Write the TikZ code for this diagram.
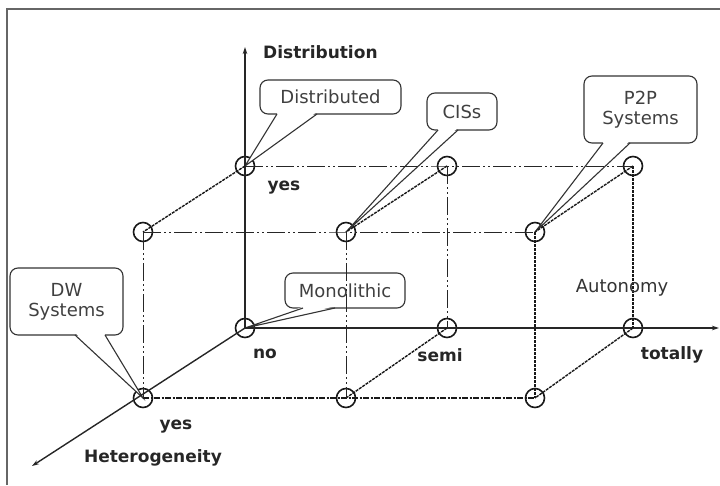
\documentclass[tikz,border=0pt]{standalone}
\usepackage{fontspec}
\setmainfont{DejaVu Sans}
\usetikzlibrary{arrows.meta,calc}
\begin{document}
\begin{tikzpicture}[x=1pt,y=-1pt,
  pt/.style={circle,draw=black!90,line width=1.6pt,minimum size=19pt,inner sep=0pt},
  axis/.style={line width=1.4pt,black!85,-{Stealth[length=7pt,width=4.5pt]}},
  dashdot/.style={line width=0.9pt,black!85,dash pattern=on 18pt off 3pt on 2pt off 3pt on 2pt off 3pt},
  diag/.style={line width=1.4pt,black!90,dash pattern=on 3pt off 1pt},
  heavydot/.style={line width=2.1pt,black!90,dash pattern=on 3pt off 1pt},
  frontedge/.style={line width=1.9pt,black!90,dash pattern=on 6pt off 1.5pt on 2pt off 1.5pt},
  callbox/.style={draw=black!80,line width=1.1pt,rounded corners=8pt,fill=white,align=center,
    text=black!75,font=\fontsize{18}{20}\selectfont,inner sep=0pt},
  tailside/.style={draw=black!80,line width=1.1pt},
  lbl/.style={font=\fontsize{17}{19}\selectfont\bfseries,text=black!85,inner sep=0pt},
  lblr/.style={font=\fontsize{18}{20}\selectfont,text=black!80,inner sep=0pt}]
\useasboundingbox (0,0) rectangle (720,485);
% frame (only top and left edges visible)
\draw[line width=2.2pt,black!60] (7,485) -- (7,9) -- (720,9);

% grid points
\node[pt] (bt1) at (245,166) {};
\node[pt] (bt2) at (447,166) {};
\node[pt] (bt3) at (633,166) {};
\node[pt] (bb1) at (245,328) {};
\node[pt] (bb2) at (447,328) {};
\node[pt] (bb3) at (633,328) {};
\node[pt] (ft1) at (143,232) {};
\node[pt] (ft2) at (346,232) {};
\node[pt] (ft3) at (535,232) {};
\node[pt] (fb1) at (143,398) {};
\node[pt] (fb2) at (346,398) {};
\node[pt] (fb3) at (535,398) {};
\coordinate (distEnd) at (245,47);
\coordinate (autEnd) at (719,328);
\coordinate (hetEnd) at (32,466);

% callouts
\node[callbox,minimum width=141pt,minimum height=34pt] (cDist) at (330.5,97) {Distributed};
\node[callbox,minimum width=70pt,minimum height=37pt] (cCIS) at (462,111.5) {CISs};
\node[callbox,minimum width=113pt,minimum height=67pt] (cP2P) at (640.5,109.5) {P2P\\Systems};
\node[callbox,minimum width=113pt,minimum height=67pt] (cDW) at (66.5,301.5) {DW\\Systems};
\node[callbox,minimum width=120pt,minimum height=35pt] (cMono) at (345,290.5) {Monolithic};

\coordinate (dA) at (277,114); \coordinate (dB) at (317,114);
\coordinate (cA) at (438,130); \coordinate (cB) at (458,130);
\coordinate (pA) at (603,143); \coordinate (pB) at (630,143);
\coordinate (wA) at (75,335); \coordinate (wB) at (105,335);
\coordinate (mA) at (303,308); \coordinate (mB) at (335,308);

\foreach \a/\b/\t in {dA/dB/bt1,cA/cB/ft2,pA/pB/ft3,wA/wB/fb1,mA/mB/bb1}{
  \fill[white] ($(\a)+(0.8,-1.6)$) -- ($(\b)+(-0.8,-1.6)$) -- (\t.center) -- cycle;
  \draw[tailside] (\a) -- (\t.center) -- (\b);
}

% axes
\draw[axis] (bb1.center) -- (distEnd);
\draw[axis] (bb1.center) -- (autEnd);
\draw[axis] (bb1.center) -- (hetEnd);

% back top edge
\draw[dashdot] (bt1.center) -- (bt2.center) -- (bt3.center);
% front top edge
\draw[dashdot] (ft1.center) -- (ft2.center) -- (ft3.center);
% front bottom edge
\draw[frontedge] (fb1.center) -- (fb2.center) -- (fb3.center);
% diagonals
\draw[diag] (bt1.center) -- (ft1.center);
\draw[diag] (bt2.center) -- (ft2.center);
\draw[diag] (bt3.center) -- (ft3.center);
\draw[diag] (bb2.center) -- (fb2.center);
\draw[diag] (bb3.center) -- (fb3.center);
% verticals
\draw[dashdot] (ft1.center) -- (fb1.center);
\draw[dashdot] (ft2.center) -- (fb2.center);
\draw[dashdot] (bt2.center) -- (bb2.center);
\draw[heavydot] (ft3.center) -- (fb3.center);
\draw[heavydot] (bt3.center) -- (bb3.center);

% labels
\node[lbl,anchor=west] (lDist) at (263,52) {Distribution};
\node[lbl] (lYesT) at (284,188) {yes};
\node[lbl] (lNo) at (265,354) {no};
\node[lbl] (lSemi) at (440,355) {semi};
\node[lbl] (lTot) at (672,355) {totally};
\node[lbl] (lYesB) at (176,427) {yes};
\node[lbl] (lHet) at (153,458) {Heterogeneity};
\node[lblr] (lAut) at (622,288) {Autonomy};
\end{tikzpicture}
\end{document}
